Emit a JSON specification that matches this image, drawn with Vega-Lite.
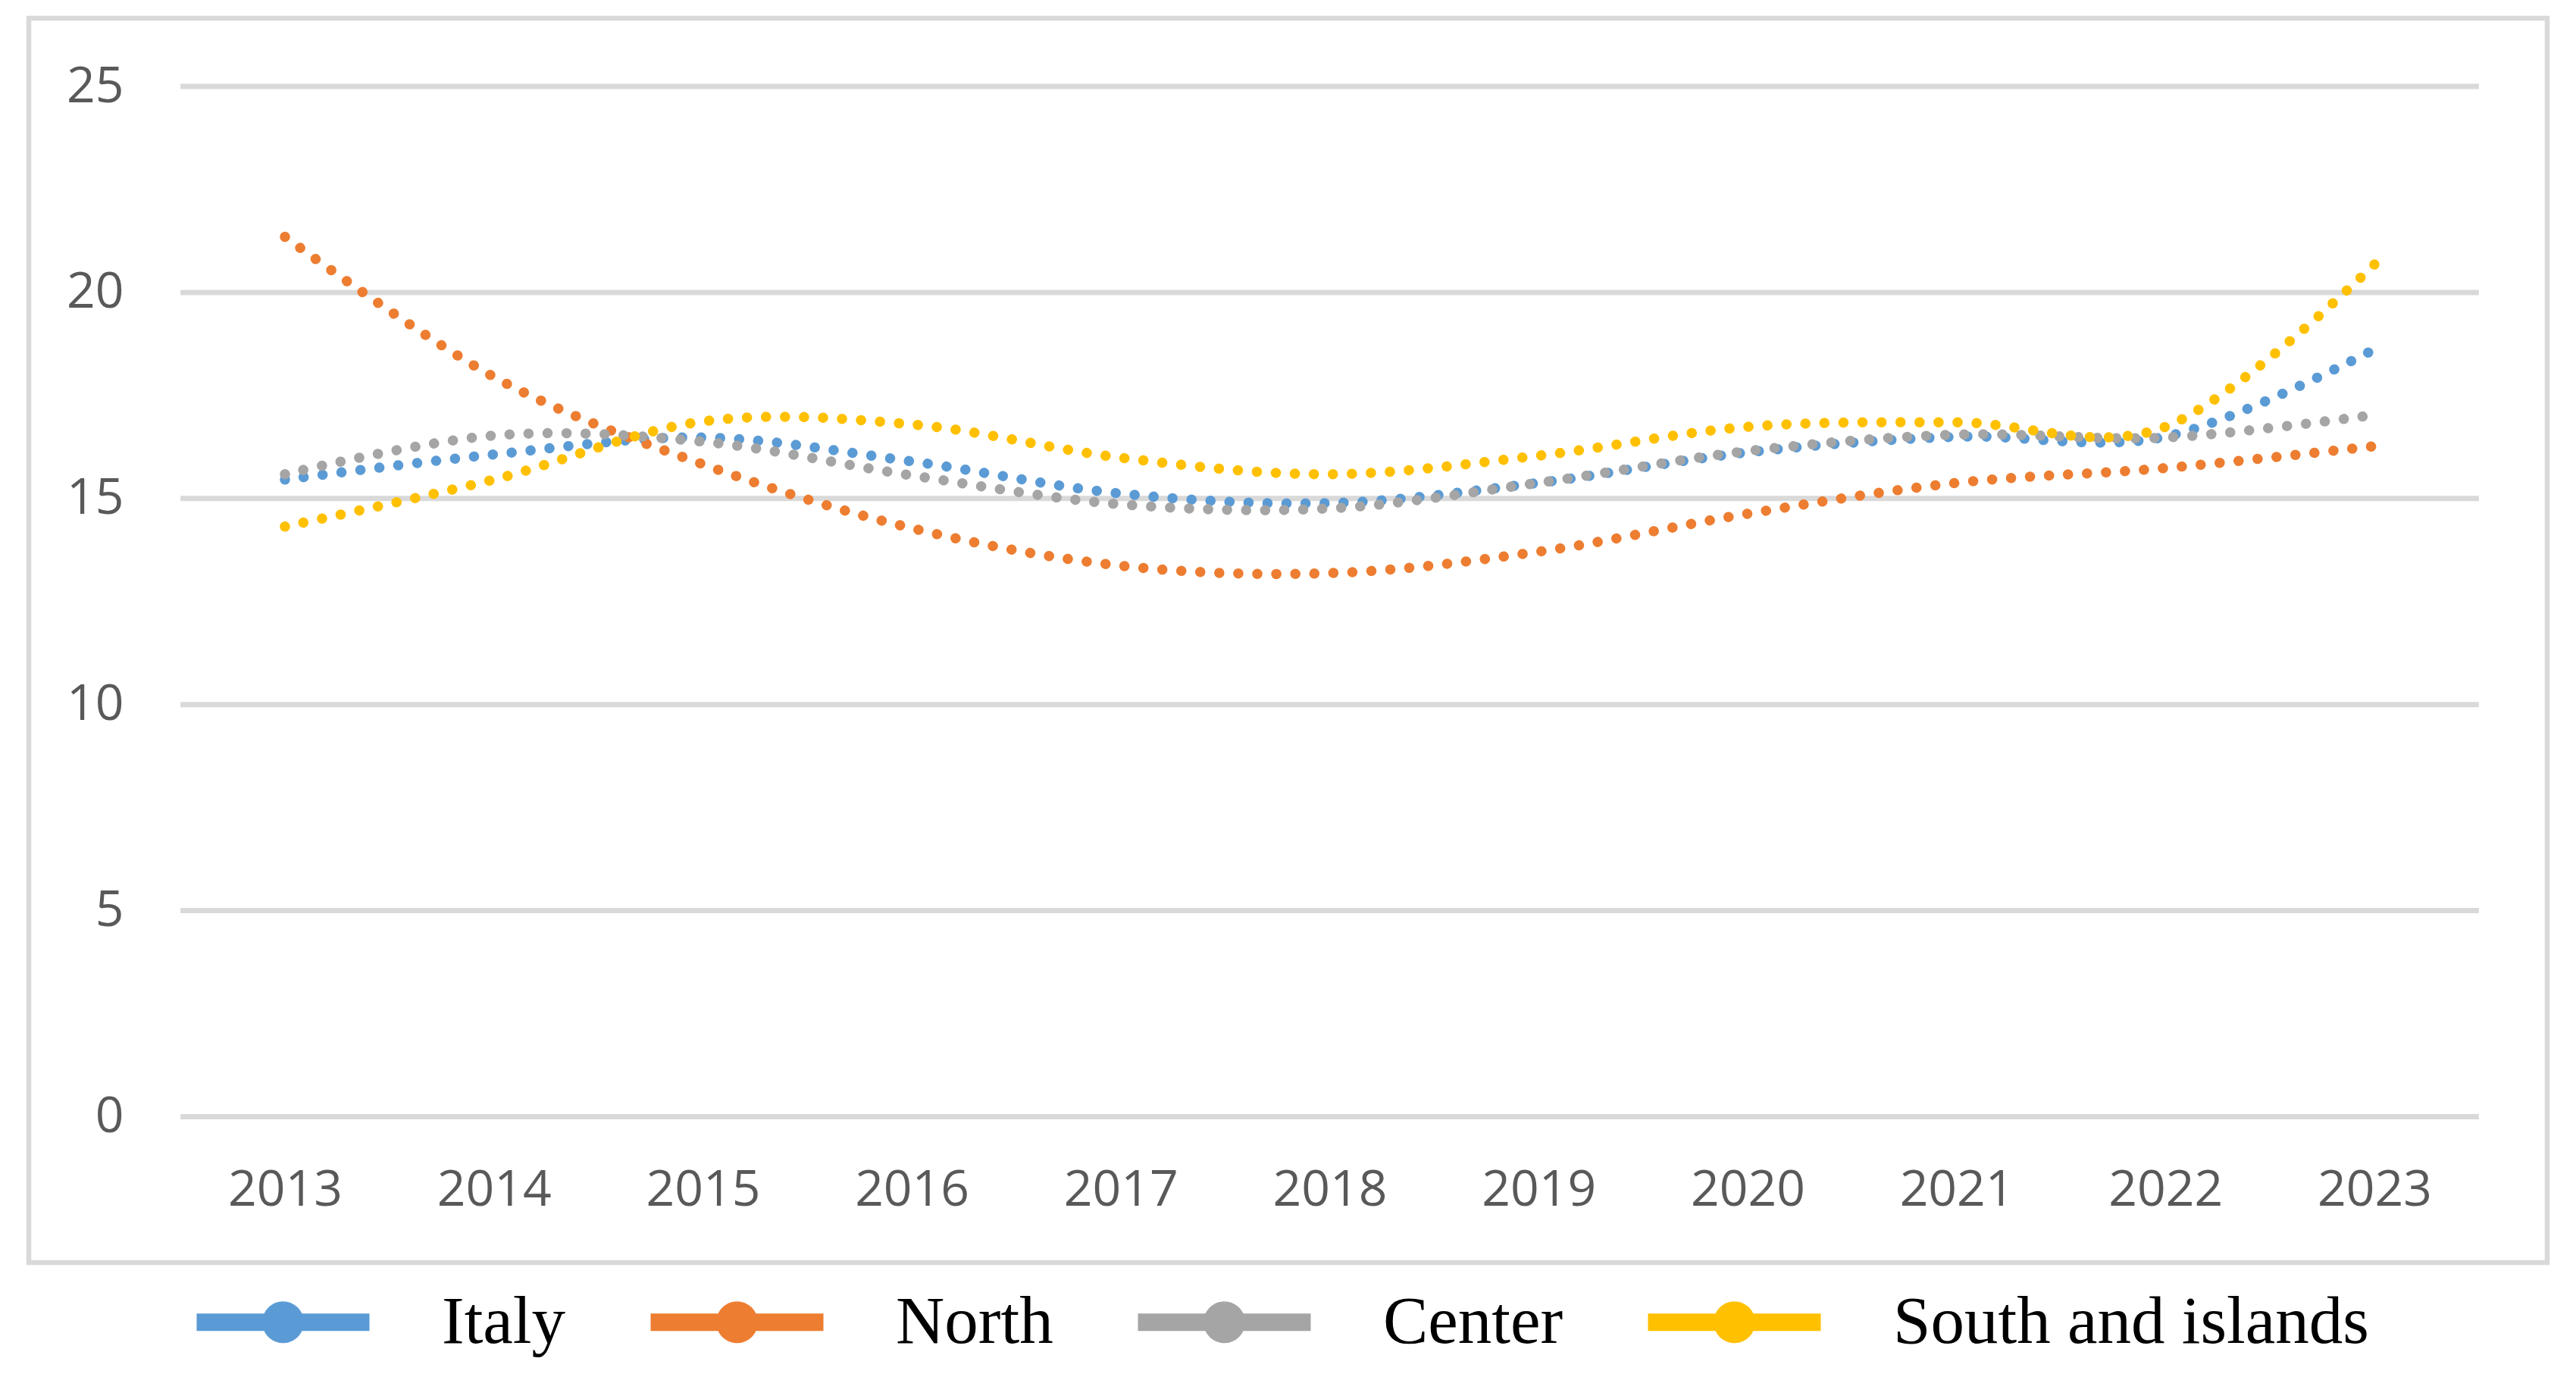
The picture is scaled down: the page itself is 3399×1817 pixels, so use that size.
{
  "$schema": "https://vega.github.io/schema/vega-lite/v6.json",
  "width": 3323,
  "height": 1642,
  "autosize": {"type": "none"},
  "padding": {"left": 38, "top": 24, "right": 38, "bottom": 151},
  "background": "white",
  "config": {
    "view": {"stroke": "#D9D9D9", "strokeWidth": 6.5},
    "axisX": {"offset": -128, "domain": false, "ticks": false, "tickSize": 0, "grid": false, "labelPadding": 0, "labelFont": "Open Sans", "labelFontSize": 66, "labelColor": "#595959", "labelFlush": false, "labelOverlap": false, "title": null},
    "axisY": {"offset": -125, "domain": false, "ticks": false, "tickSize": 0, "grid": false, "labelPadding": 0, "labelFont": "Open Sans", "labelFontSize": 66, "labelColor": "#595959", "labelFlush": false, "labelOverlap": false, "title": null}
  },
  "layer": [
    {
      "data": {"values": [{"value": 0}, {"value": 5}, {"value": 10}, {"value": 15}, {"value": 20}, {"value": 25}]},
      "mark": {"type": "rule", "color": "#D9D9D9", "strokeWidth": 7},
      "encoding": {
        "y": {"field": "value", "type": "quantitative", "scale": {"domain": [-3.541, 26.656], "nice": false, "zero": false}, "axis": {"title": null, "values": [0, 5, 10, 15, 20, 25]}},
        "x": {"datum": 2012.5, "type": "quantitative", "scale": {"domain": [2011.774, 2023.827], "nice": false, "zero": false}, "axis": {"title": null, "format": "d", "values": [2013, 2014, 2015, 2016, 2017, 2018, 2019, 2020, 2021, 2022, 2023]}},
        "x2": {"datum": 2023.5}
      }
    },
    {
      "data": {"values": [
        {"region": "Italy", "year": 2013, "value": 15.46},
        {"region": "Italy", "year": 2014, "value": 16.07},
        {"region": "Italy", "year": 2015, "value": 16.48},
        {"region": "Italy", "year": 2016, "value": 15.90},
        {"region": "Italy", "year": 2017, "value": 15.12},
        {"region": "Italy", "year": 2018, "value": 14.89},
        {"region": "Italy", "year": 2019, "value": 15.38},
        {"region": "Italy", "year": 2020, "value": 16.12},
        {"region": "Italy", "year": 2021, "value": 16.50},
        {"region": "Italy", "year": 2022, "value": 16.50},
        {"region": "Italy", "year": 2023, "value": 18.62},
        {"region": "North", "year": 2013, "value": 21.35},
        {"region": "North", "year": 2014, "value": 17.95},
        {"region": "North", "year": 2015, "value": 15.83},
        {"region": "North", "year": 2016, "value": 14.28},
        {"region": "North", "year": 2017, "value": 13.37},
        {"region": "North", "year": 2018, "value": 13.19},
        {"region": "North", "year": 2019, "value": 13.71},
        {"region": "North", "year": 2020, "value": 14.63},
        {"region": "North", "year": 2021, "value": 15.38},
        {"region": "North", "year": 2022, "value": 15.74},
        {"region": "North", "year": 2023, "value": 16.27},
        {"region": "Center", "year": 2013, "value": 15.59},
        {"region": "Center", "year": 2014, "value": 16.53},
        {"region": "Center", "year": 2015, "value": 16.38},
        {"region": "Center", "year": 2016, "value": 15.56},
        {"region": "Center", "year": 2017, "value": 14.86},
        {"region": "Center", "year": 2018, "value": 14.76},
        {"region": "Center", "year": 2019, "value": 15.38},
        {"region": "Center", "year": 2020, "value": 16.15},
        {"region": "Center", "year": 2021, "value": 16.55},
        {"region": "Center", "year": 2022, "value": 16.48},
        {"region": "Center", "year": 2023, "value": 17.03},
        {"region": "South and islands", "year": 2013, "value": 14.32},
        {"region": "South and islands", "year": 2014, "value": 15.46},
        {"region": "South and islands", "year": 2015, "value": 16.87},
        {"region": "South and islands", "year": 2016, "value": 16.80},
        {"region": "South and islands", "year": 2017, "value": 15.99},
        {"region": "South and islands", "year": 2018, "value": 15.59},
        {"region": "South and islands", "year": 2019, "value": 16.04},
        {"region": "South and islands", "year": 2020, "value": 16.74},
        {"region": "South and islands", "year": 2021, "value": 16.85},
        {"region": "South and islands", "year": 2022, "value": 16.74},
        {"region": "South and islands", "year": 2023, "value": 20.68}
      ]},
      "mark": {"type": "line", "interpolate": "cardinal", "strokeWidth": 13.5, "strokeDash": [0.1, 25], "strokeCap": "round"},
      "encoding": {
        "x": {"field": "year", "type": "quantitative", "scale": {"domain": [2011.774, 2023.827], "nice": false, "zero": false}, "axis": {"title": null, "format": "d", "values": [2013, 2014, 2015, 2016, 2017, 2018, 2019, 2020, 2021, 2022, 2023]}},
        "y": {"field": "value", "type": "quantitative", "scale": {"domain": [-3.541, 26.656], "nice": false, "zero": false}, "axis": {"title": null, "values": [0, 5, 10, 15, 20, 25]}},
        "color": {
          "field": "region",
          "type": "nominal",
          "scale": {"domain": ["Italy", "North", "Center", "South and islands"], "range": ["#5B9BD5", "#ED7D31", "#A5A5A5", "#FFC000"]},
          "legend": {
            "orient": "none",
            "legendX": 210,
            "legendY": 1595,
            "direction": "horizontal",
            "title": null,
            "padding": 0,
            "symbolType": "M-1,0 L1,0 M0.1,0 A0.1,0.1 0 1 1 -0.1,0 A0.1,0.1 0 1 1 0.1,0 M0.14,0 A0.14,0.14 0 1 1 -0.14,0 A0.14,0.14 0 1 1 0.14,0",
            "symbolSize": 51984,
            "symbolStrokeWidth": 23,
            "symbolDash": [1, 0],
            "symbolOpacity": 1,
            "labelFont": "Liberation Serif",
            "labelFontSize": 89,
            "labelColor": "#000000",
            "labelOffset": 84,
            "columnPadding": 65,
            "labelLimit": 2000
          }
        }
      }
    }
  ]
}
